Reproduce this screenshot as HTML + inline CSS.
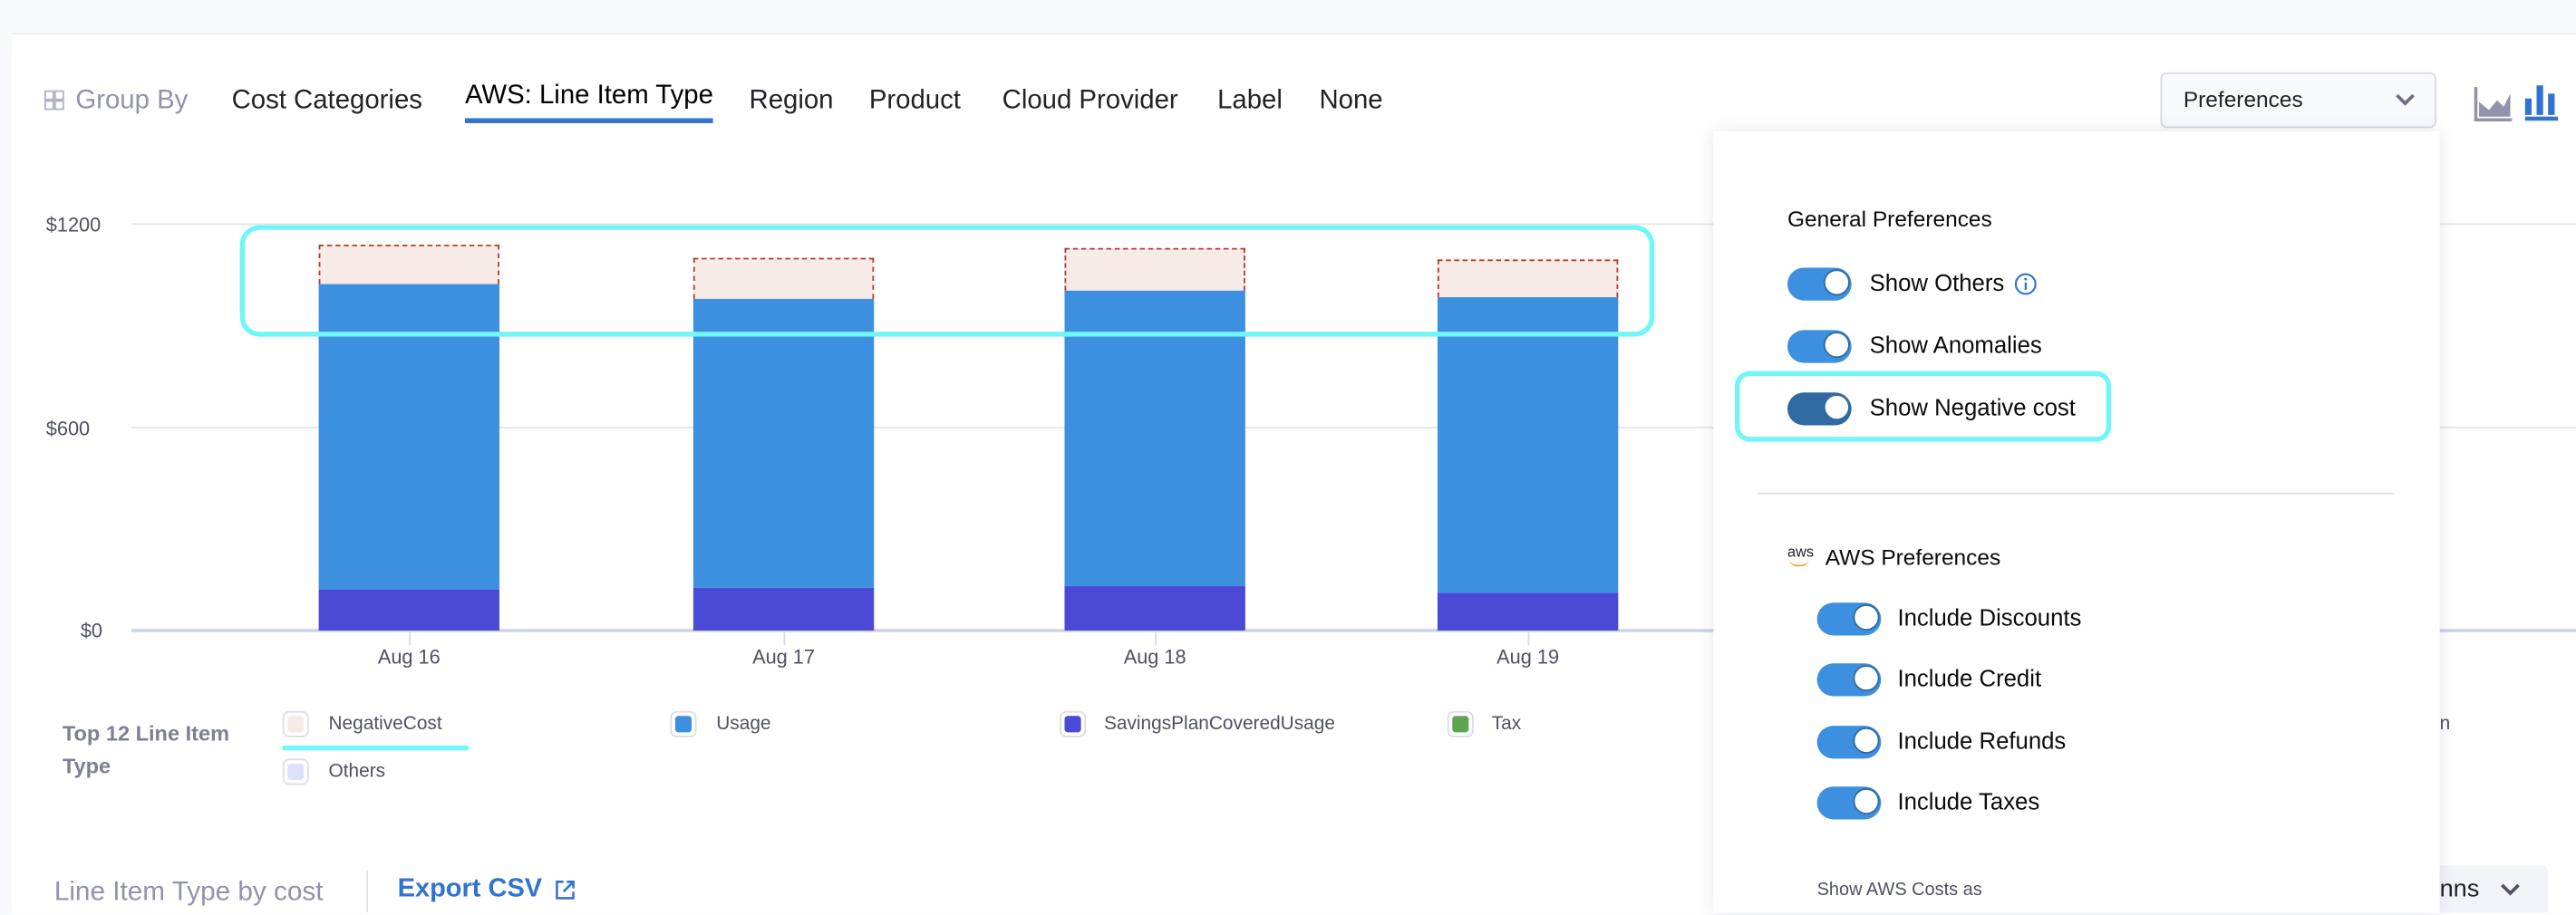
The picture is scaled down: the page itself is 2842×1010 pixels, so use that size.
<!DOCTYPE html>
<html><head><meta charset="utf-8"><style>
html,body{margin:0;padding:0;width:2842px;height:1008px;overflow:hidden;background:#f8f9fd;font-family:"Liberation Sans",sans-serif}
#s{position:absolute;left:0;top:0;width:1568px;height:556px;transform:scale(1.8125);transform-origin:0 0}
.a{position:absolute;white-space:nowrap}
.tab{font-size:16.2px;color:#22222a;top:52px}
.grid{position:absolute;left:80px;width:1488px;height:1px;background:#e4e5ea}
.yl{position:absolute;left:28px;font-size:12px;color:#4f5162}
.bar{position:absolute;width:110px}
.neg{background:#f7ebe8;border:1.2px dashed #b93a2d;border-bottom:none;box-sizing:border-box}
.use{background:#3d8fdf}.sp{background:#4a4ad6}
.xl{position:absolute;top:393px;font-size:12px;color:#4f5162;width:60px;text-align:center}
.tick{position:absolute;top:385px;width:1px;height:8px;background:#d5dbe8}
.sw{position:absolute;width:16px;height:16px;border:1.5px solid #dcdde6;border-radius:4px;box-sizing:border-box;background:#fff}
.sw i{position:absolute;left:2px;top:2px;right:2px;bottom:2px;border-radius:2px}
.lg{position:absolute;font-size:11.5px;color:#4f5162}
.tg{position:absolute;width:39px;height:20px;border-radius:10px;background:#3d8fdf}
.tg i{position:absolute;right:1px;top:1px;width:16px;height:16px;border-radius:50%;background:#fff;border:1.5px solid #2f6ba0;box-sizing:border-box}
.pl{position:absolute;font-size:14.2px;color:#0b0b0d}
</style></head><body><div id="s">
<div class="a" style="left:7px;top:20px;width:1561px;height:536px;background:#fff;border-top:1px solid #eceef3"></div>
<div class="a" style="left:27px;top:55px;width:12px;height:12px">
<div class="a" style="left:0;top:0;width:4px;height:4px;border:1px solid #b0b1c0"></div><div class="a" style="left:6px;top:0;width:4px;height:4px;border:1px solid #b0b1c0"></div>
<div class="a" style="left:0;top:6px;width:4px;height:4px;border:1px solid #b0b1c0"></div><div class="a" style="left:6px;top:6px;width:4px;height:4px;border:1px solid #b0b1c0"></div></div>
<div class="a tab" style="left:46px;color:#9293ab">Group By</div>
<div class="a tab" style="left:141px">Cost Categories</div>
<div class="a tab" style="left:283px;top:49px;color:#000">AWS: Line Item Type</div>
<div class="a" style="left:283px;top:72px;width:151px;height:3px;background:#3273d0"></div>
<div class="a tab" style="left:456px">Region</div>
<div class="a tab" style="left:529px">Product</div>
<div class="a tab" style="left:610px">Cloud Provider</div>
<div class="a tab" style="left:741px">Label</div>
<div class="a tab" style="left:803px">None</div>
<div class="a" style="left:1315px;top:44px;width:168px;height:34px;box-sizing:border-box;background:#f8f9fd;border:1px solid #d9dae5;border-radius:4px"></div>
<div class="a" style="left:1329px;top:53px;font-size:13.5px;color:#22222a">Preferences</div>
<svg class="a" style="left:1458px;top:56px" width="12" height="10"><path d="M1 2 L6 7 L11 2" stroke="#6b6d85" stroke-width="2" fill="none"/></svg>
<svg class="a" style="left:1506px;top:52px" width="24" height="22"><path d="M1 1V21H23" stroke="#9293ab" stroke-width="2" fill="none"/><path d="M3 19V10L9 15L14 9L18 13L22 5V19Z" fill="#9293ab"/></svg>
<svg class="a" style="left:1536px;top:50px" width="22" height="24"><rect x="1" y="10" width="4" height="10" fill="#3273d0"/><rect x="8" y="2" width="4" height="18" fill="#3273d0"/><rect x="15" y="7" width="4" height="13" fill="#3273d0"/><rect x="1" y="21" width="20" height="2.5" fill="#3273d0"/></svg>
<div class="grid" style="top:136px"></div>
<div class="grid" style="top:260px"></div>
<div class="grid" style="top:383px;height:2px;background:#cdd5e6"></div>
<div class="yl" style="top:130px">$1200</div>
<div class="yl" style="top:254px">$600</div>
<div class="yl" style="top:377px;left:49px">$0</div>
<div class="bar neg" style="left:194px;top:149px;height:24px"></div>
<div class="bar use" style="left:194px;top:173px;height:186px"></div>
<div class="bar sp" style="left:194px;top:359px;height:25px"></div>
<div class="bar neg" style="left:422px;top:157px;height:25px"></div>
<div class="bar use" style="left:422px;top:182px;height:176px"></div>
<div class="bar sp" style="left:422px;top:358px;height:26px"></div>
<div class="bar neg" style="left:648px;top:151px;height:26px"></div>
<div class="bar use" style="left:648px;top:177px;height:180px"></div>
<div class="bar sp" style="left:648px;top:357px;height:27px"></div>
<div class="bar neg" style="left:875px;top:158px;height:23px"></div>
<div class="bar use" style="left:875px;top:181px;height:180px"></div>
<div class="bar sp" style="left:875px;top:361px;height:23px"></div>
<div class="tick" style="left:249px"></div><div class="tick" style="left:477px"></div><div class="tick" style="left:703px"></div><div class="tick" style="left:930px"></div>
<div class="xl" style="left:219px">Aug 16</div><div class="xl" style="left:447px">Aug 17</div><div class="xl" style="left:673px">Aug 18</div><div class="xl" style="left:900px">Aug 19</div>
<div class="a" style="left:146px;top:137px;width:861px;height:68px;box-sizing:border-box;border:3px solid #72f5f8;border-radius:12px"></div>
<div class="a" style="left:38px;top:437px;font-size:13px;font-weight:bold;color:#7d7f95;line-height:20px;white-space:normal;width:120px">Top 12 Line Item<br>Type</div>
<div class="sw" style="left:172px;top:433px"><i style="background:#f7ebe8"></i></div><div class="lg" style="left:200px;top:435px">NegativeCost</div>
<div class="a" style="left:172px;top:454px;width:113px;height:3px;background:#72f5f8"></div>
<div class="sw" style="left:408px;top:433px"><i style="background:#3d8fdf"></i></div><div class="lg" style="left:436px;top:435px">Usage</div>
<div class="sw" style="left:645px;top:433px"><i style="background:#4a4ad6"></i></div><div class="lg" style="left:672px;top:435px">SavingsPlanCoveredUsage</div>
<div class="sw" style="left:881px;top:433px"><i style="background:#5ea552"></i></div><div class="lg" style="left:908px;top:435px">Tax</div>
<div class="sw" style="left:172px;top:462px"><i style="background:#dce2fb"></i></div><div class="lg" style="left:200px;top:464px">Others</div>
<div class="lg" style="left:1485px;top:435px">n</div>
<div class="a" style="left:33px;top:534px;font-size:16.4px;color:#9293ab">Line Item Type by cost</div>
<div class="a" style="left:223px;top:530px;width:1px;height:26px;background:#e4e5ea"></div>
<div class="a" style="left:242px;top:533px;font-size:16px;font-weight:bold;color:#3273d0">Export CSV</div>
<svg class="a" style="left:337px;top:535px" width="14" height="14"><path d="M6 2H2V12H12V8M8 2H12V6M12 2L6 8" stroke="#3273d0" stroke-width="1.4" fill="none"/></svg>
<div class="a" style="left:1483px;top:527px;width:68px;height:29px;background:#f3f3fa;border-radius:4px 4px 0 0"></div>
<div class="a" style="left:1485px;top:533px;font-size:15px;color:#22222a">nns</div>
<svg class="a" style="left:1522px;top:537px" width="12" height="10"><path d="M1 2L6 7L11 2" stroke="#4f5162" stroke-width="2" fill="none"/></svg>
<div class="a" style="left:1043px;top:80px;width:442px;height:476px;background:#fff;box-shadow:0 0 10px rgba(40,40,80,0.12)"></div>
<div class="pl" style="left:1088px;top:126px;font-size:13.5px">General Preferences</div>
<div class="tg" style="left:1088px;top:163px"><i></i></div><div class="pl" style="left:1138px;top:165px">Show Others</div>
<svg class="a" style="left:1226px;top:166px" width="14" height="14"><circle cx="7" cy="7" r="6" stroke="#3273d0" stroke-width="1.2" fill="none"/><rect x="6.4" y="6" width="1.3" height="4.5" fill="#3273d0"/><circle cx="7" cy="4" r="0.8" fill="#3273d0"/></svg>
<div class="tg" style="left:1088px;top:201px"><i></i></div><div class="pl" style="left:1138px;top:203px">Show Anomalies</div>
<div class="tg" style="left:1088px;top:239px;background:#2f6ba0"><i></i></div><div class="pl" style="left:1138px;top:241px">Show Negative cost</div>
<div class="a" style="left:1056px;top:226px;width:229px;height:43px;box-sizing:border-box;border:3px solid #72f5f8;border-radius:9px"></div>
<div class="a" style="left:1070px;top:300px;width:387px;height:1px;background:#dcdde3"></div>
<div class="a" style="left:1088px;top:332px;font-size:9px;color:#22222a;line-height:9px">aws</div>
<div class="a" style="left:1089px;top:340px;width:12px;height:4px;border-bottom:1.5px solid #f29a1f;border-radius:0 0 8px 8px"></div>
<div class="pl" style="left:1111px;top:332px;font-size:13.5px">AWS Preferences</div>
<div class="tg" style="left:1106px;top:367px"><i></i></div><div class="pl" style="left:1155px;top:369px">Include Discounts</div>
<div class="tg" style="left:1106px;top:404px"><i></i></div><div class="pl" style="left:1155px;top:406px">Include Credit</div>
<div class="tg" style="left:1106px;top:442px"><i></i></div><div class="pl" style="left:1155px;top:444px">Include Refunds</div>
<div class="tg" style="left:1106px;top:479px"><i></i></div><div class="pl" style="left:1155px;top:481px">Include Taxes</div>
<div class="a" style="left:1106px;top:536px;font-size:11px;color:#4f5162">Show AWS Costs as</div>
</div></body></html>
